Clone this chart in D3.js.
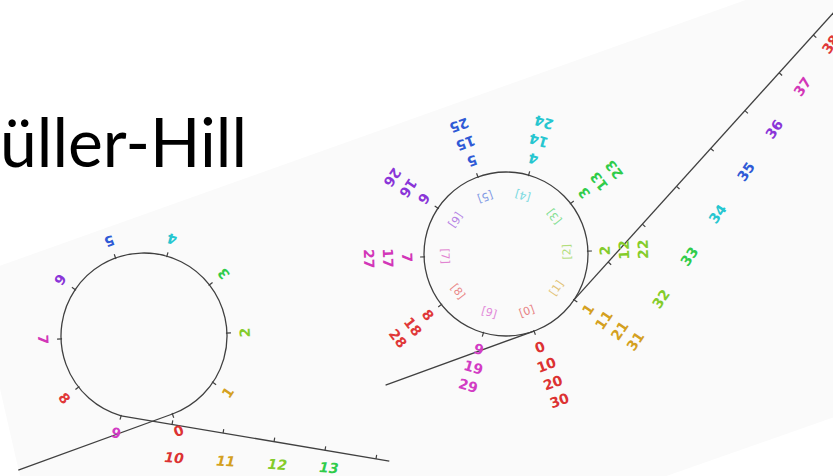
<!DOCTYPE html>
<html>
<head>
<meta charset="utf-8">
<script src="https://cdn.jsdelivr.net/npm/d3@7/dist/d3.min.js"></script>
<style>
  body { margin: 0; background: #fff; }
  svg { display: block; }
</style>
</head>
<body>
<svg width="833" height="476"></svg>
<script>
// ring positions and their colours
const ringLabels = ['0', '1', '2', '3', '4', '5', '6', '7', '8', '9']
const ringColors = ['#dc3232', '#d4a020', '#84cc2a', '#2fcc4a', '#26c6d0',
                    '#2f5ad6', '#8a35d8', '#d236b8', '#e03838', '#d23cc4']

// left picture: the line that leaves the ring
const leftLineLabels = ['10', '11', '12', '13']
const leftLineTicks = [1, 2, 3, 4, 5]

// right picture: numbers stacked on each ring position
const rightStacks = [
  ['0', '10', '20', '30'],
  ['1', '11', '21', '31'],
  ['2', '12', '22'],
  ['3', '13', '23'],
  ['4', '14', '24'],
  ['5', '15', '25'],
  ['6', '16', '26'],
  ['7', '17', '27'],
  ['8', '18', '28'],
  ['9', '19', '29']
]
const rightInner = ['[0]', '[1]', '[2]', '[3]', '[4]', '[5]', '[6]', '[7]', '[8]', '[9]']
const rightLineLabels = ['32', '33', '34', '35', '36', '37', '38']
const rightLineTicks = [1, 2, 3, 4, 5, 6, 7, 8]

const svg = d3.select('svg')
const rad = Math.PI / 180
const lineColor = '#404040'

// angle of each ring position, degrees (screen coords)
const angle = d3.scaleLinear().domain([0, 10]).range([70, -290])

function polar(cx, cy, r, deg) {
  return [cx + r * Math.cos(deg * rad), cy + r * Math.sin(deg * rad)]
}

// tilted light backdrop
svg.append('polygon')
  .attr('points', '-26,275 900,-55 900,394 68,686')
  .style('fill', '#fafafa')

svg.append('text')
  .attr('x', 0)
  .attr('y', 167)
  .attr('textLength', 247)
  .attr('lengthAdjust', 'spacingAndGlyphs')
  .style('font-family', 'Lato, "Open Sans", sans-serif')
  .style('font-size', '68px')
  .style('fill', '#000')
  .text('üller-Hill')

function ringTicks(g, cx, cy, r) {
  g.selectAll('line.rt')
    .data(ringLabels)
    .join('line')
    .attr('class', 'rt')
    .attr('x1', (d, i) => polar(cx, cy, r - 1, angle(i))[0])
    .attr('y1', (d, i) => polar(cx, cy, r - 1, angle(i))[1])
    .attr('x2', (d, i) => polar(cx, cy, r + 4, angle(i))[0])
    .attr('y2', (d, i) => polar(cx, cy, r + 4, angle(i))[1])
    .style('stroke', lineColor)
    .style('stroke-width', 1.2)
}

function tail(g, cx, cy, r, len) {
  let a = angle(0)
  let p = polar(cx, cy, r, a)
  let dir = [Math.sin(a * rad), -Math.cos(a * rad)]
  g.append('line')
    .attr('x1', p[0] - len * dir[0])
    .attr('y1', p[1] - len * dir[1])
    .attr('x2', p[0])
    .attr('y2', p[1])
    .style('stroke', lineColor)
    .style('stroke-width', 1.3)
}

// straight number line leaving the ring, with ticks and its labels
function outLine(g, start, deg, len, ticks, step, tickSide, labels, labOrigin, labDeg, labRot, italic) {
  let dir = [Math.cos(deg * rad), Math.sin(deg * rad)]
  let nrm = [Math.sin(deg * rad) * tickSide, -Math.cos(deg * rad) * tickSide]
  let along = d3.scaleLinear().domain([0, 1]).range([0, step])
  g.append('line')
    .attr('x1', start[0])
    .attr('y1', start[1])
    .attr('x2', start[0] + len * dir[0])
    .attr('y2', start[1] + len * dir[1])
    .style('stroke', lineColor)
    .style('stroke-width', 1.3)
  g.selectAll('line.lt')
    .data(ticks)
    .join('line')
    .attr('class', 'lt')
    .attr('x1', d => start[0] + along(d) * dir[0])
    .attr('y1', d => start[1] + along(d) * dir[1])
    .attr('x2', d => start[0] + along(d) * dir[0] + 4 * nrm[0])
    .attr('y2', d => start[1] + along(d) * dir[1] + 4 * nrm[1])
    .style('stroke', lineColor)
    .style('stroke-width', 1.2)
  let ldir = [Math.cos(labDeg * rad), Math.sin(labDeg * rad)]
  let o = [start[0] + labOrigin[0], start[1] + labOrigin[1]]
  g.selectAll('text.ll')
    .data(labels)
    .join('text')
    .attr('class', 'll')
    .attr('transform', (d, i) => {
      let x = o[0] + along(i) * ldir[0]
      let y = o[1] + along(i) * ldir[1]
      return `translate(${x},${y}) rotate(${labRot})`
    })
    .attr('text-anchor', 'middle')
    .attr('dominant-baseline', 'central')
    .style('font-family', '"DejaVu Sans", sans-serif')
    .style('font-size', '14px')
    .style('font-weight', 'bold')
    .style('font-style', italic ? 'italic' : 'normal')
    .style('fill', d => ringColors[+d % 10])
    .text(d => d)
}

// ---- left picture ----
{
  const cx = 144, cy = 336, r = 83
  const g = svg.append('g')
  tail(g, cx, cy, r, 164)
  let p = d3.path()
  p.arc(cx, cy, r, angle(0) * rad, angle(9) * rad, true)
  g.append('path')
    .attr('d', p.toString())
    .style('fill', 'none')
    .style('stroke', lineColor)
    .style('stroke-width', 1.3)
  ringTicks(g, cx, cy, r)
  outLine(g, polar(cx, cy, r, angle(9)), 9.6, 272, leftLineTicks, 51.7, 1,
          leftLineLabels, [53, 42], 3.7, 4, true)
  g.selectAll('text.rl')
    .data(ringLabels)
    .join('text')
    .attr('class', 'rl')
    .attr('transform', (d, i) => {
      let q = polar(cx, cy, r + 18, angle(i))
      return `translate(${q[0]},${q[1]}) rotate(${angle(i) - 90})`
    })
    .attr('text-anchor', 'middle')
    .attr('dominant-baseline', 'central')
    .style('font-family', '"DejaVu Sans", sans-serif')
    .style('font-size', '14px')
    .style('font-weight', 'bold')
    .style('fill', (d, i) => ringColors[i])
    .text(d => d)
}

// ---- right picture ----
{
  const cx = 506, cy = 254, r = 82
  const g = svg.append('g')
  tail(g, cx, cy, r, 158)
  g.append('circle')
    .attr('cx', cx)
    .attr('cy', cy)
    .attr('r', r)
    .style('fill', 'none')
    .style('stroke', lineColor)
    .style('stroke-width', 1.3)
  ringTicks(g, cx, cy, r)
  outLine(g, polar(cx, cy, r, angle(1)), -47.9, 420, rightLineTicks, 51, -1,
          rightLineLabels, [87, -1], -56.3, -55, false)

  g.selectAll('text.inner')
    .data(rightInner)
    .join('text')
    .attr('class', 'inner')
    .attr('transform', (d, i) => {
      let q = polar(cx, cy, r - 21, angle(i))
      return `translate(${q[0]},${q[1]}) rotate(${angle(i) - 90})`
    })
    .attr('text-anchor', 'middle')
    .attr('dominant-baseline', 'central')
    .style('font-family', '"DejaVu Sans", sans-serif')
    .style('font-size', '11px')
    .style('fill', (d, i) => ringColors[i])
    .style('opacity', 0.6)
    .text(d => d)

  let stackRad = d3.scaleLinear().domain([0, 1]).range([r + 17, r + 36])
  rightStacks.forEach((stack, i) => {
    g.selectAll('text.s' + i)
      .data(stack)
      .join('text')
      .attr('class', 's' + i)
      .attr('transform', (d, j) => {
        let q = polar(cx, cy, stackRad(j), angle(i))
        return `translate(${q[0]},${q[1]}) rotate(${angle(i) - 90})`
      })
      .attr('text-anchor', 'middle')
      .attr('dominant-baseline', 'central')
      .style('font-family', '"DejaVu Sans", sans-serif')
      .style('font-size', '14px')
      .style('font-weight', 'bold')
      .style('fill', ringColors[i])
      .text(d => d)
  })
}
</script>
</body>
</html>
